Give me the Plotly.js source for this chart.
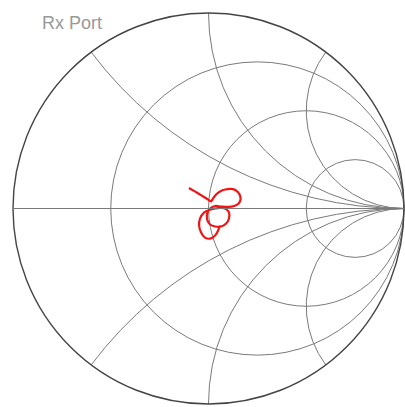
<!DOCTYPE html>
<html>
<head>
<meta charset="utf-8">
<script src="https://cdn.plot.ly/plotly-3.0.1.min.js"></script>
<style>html,body{margin:0;padding:0;background:#fff;}#chart{width:405px;height:407px;}</style>
</head>
<body>
<div id="chart"></div>
<script>
// Reflection coefficient (S11) samples
const s11Re = [-0.100,-0.074,-0.048,-0.023,-0.002,0.013,
  0.023,0.039,0.059,0.085,0.116,0.141,0.159,0.164,0.154,0.131,0.100,0.064,0.034,
  0.008,-0.007,-0.007,0.008,0.034,0.064,0.090,0.105,0.105,0.090,0.064,
  0.034,0.003,-0.023,-0.043,-0.048,-0.038,-0.018,0.008,0.034,0.049,0.059];
const s11Im = [0.105,0.090,0.074,0.059,0.046,0.036,
  0.051,0.072,0.087,0.097,0.100,0.092,0.072,0.046,0.026,0.013,0.008,0.010,0.013,
  0.000,-0.026,-0.056,-0.082,-0.092,-0.092,-0.077,-0.051,-0.021,-0.003,0.003,
  0.000,-0.008,-0.021,-0.051,-0.087,-0.123,-0.149,-0.154,-0.138,-0.113,-0.087];
const resistanceTicks = [0.3333, 1, 3];
const reactanceTicks = [-2, -1, -0.5, 0.5, 1, 2];
const titleText = "Rx Port";

// normalized impedance z = (1+G)/(1-G)
const zRe = [], zIm = [];
for (let i = 0; i < s11Re.length; i++) {
  const a = s11Re[i], b = s11Im[i];
  const d = (1 - a) * (1 - a) + b * b;
  zRe.push((1 - a * a - b * b) / d);
  zIm.push((2 * b) / d);
}

const trace = {
  type: 'scattersmith',
  real: zRe,
  imag: zIm,
  mode: 'lines',
  line: {color: '#f01414', width: 2.2, shape: 'spline', smoothing: 1},
  hoverinfo: 'skip'
};

const layout = {
  width: 405, height: 407,
  margin: {l: 13, r: 1, t: 13, b: 3},
  paper_bgcolor: '#ffffff',
  showlegend: false,
  smith: {
    bgcolor: '#ffffff',
    domain: {x: [0, 1], y: [0, 1]},
    realaxis: {
      tickvals: resistanceTicks,
      showticklabels: false, ticks: '',
      gridcolor: '#7a7a7a', gridwidth: 1,
      showline: true, linecolor: '#7a7a7a', linewidth: 1
    },
    imaginaryaxis: {
      tickvals: reactanceTicks,
      showticklabels: false, ticks: '',
      gridcolor: '#7a7a7a', gridwidth: 1,
      showline: true, linecolor: '#444444', linewidth: 1.4
    }
  },
  annotations: [{
    text: titleText, xref: 'paper', yref: 'paper',
    x: 27/391, y: (404-23.5)/391, xanchor: 'left', yanchor: 'middle',
    showarrow: false,
    font: {family: 'Liberation Sans, Arial, sans-serif', size: 18, color: '#999999'}
  }]
};

Plotly.newPlot('chart', [trace], layout, {staticPlot: true, displayModeBar: false});
</script>
</body>
</html>
